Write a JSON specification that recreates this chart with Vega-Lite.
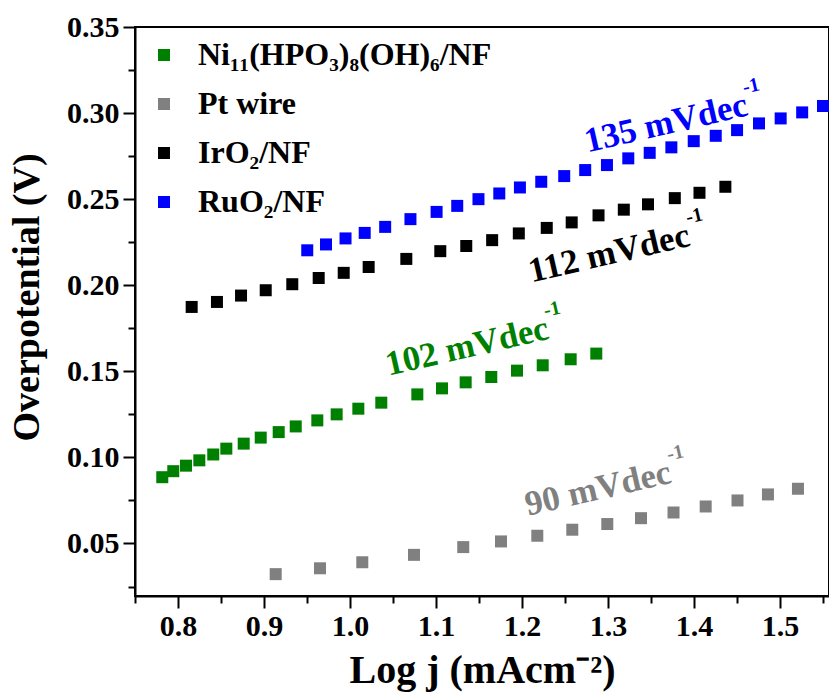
{
  "$schema": "https://vega.github.io/schema/vega-lite/v6.json",
  "width": 694,
  "height": 569,
  "autosize": {"type": "none"},
  "padding": {"left": 135, "top": 27, "right": 0, "bottom": 96},
  "background": "white",
  "config": {
    "view": {"stroke": "black", "strokeWidth": 2},
    "font": "Liberation Serif"
  },
  "datasets": {
    "pts": [
      {"series": "Ni₁₁(HPO₃)₈(OH)₆/NF", "logj": 0.7817, "eta": 0.0885},
      {"series": "Ni₁₁(HPO₃)₈(OH)₆/NF", "logj": 0.7945, "eta": 0.0920},
      {"series": "Ni₁₁(HPO₃)₈(OH)₆/NF", "logj": 0.8093, "eta": 0.0952},
      {"series": "Ni₁₁(HPO₃)₈(OH)₆/NF", "logj": 0.8248, "eta": 0.0983},
      {"series": "Ni₁₁(HPO₃)₈(OH)₆/NF", "logj": 0.8410, "eta": 0.1017},
      {"series": "Ni₁₁(HPO₃)₈(OH)₆/NF", "logj": 0.8562, "eta": 0.1051},
      {"series": "Ni₁₁(HPO₃)₈(OH)₆/NF", "logj": 0.8764, "eta": 0.1080},
      {"series": "Ni₁₁(HPO₃)₈(OH)₆/NF", "logj": 0.8962, "eta": 0.1115},
      {"series": "Ni₁₁(HPO₃)₈(OH)₆/NF", "logj": 0.9171, "eta": 0.1147},
      {"series": "Ni₁₁(HPO₃)₈(OH)₆/NF", "logj": 0.9369, "eta": 0.1180},
      {"series": "Ni₁₁(HPO₃)₈(OH)₆/NF", "logj": 0.9620, "eta": 0.1215},
      {"series": "Ni₁₁(HPO₃)₈(OH)₆/NF", "logj": 0.9845, "eta": 0.1250},
      {"series": "Ni₁₁(HPO₃)₈(OH)₆/NF", "logj": 1.0097, "eta": 0.1283},
      {"series": "Ni₁₁(HPO₃)₈(OH)₆/NF", "logj": 1.0364, "eta": 0.1318},
      {"series": "Ni₁₁(HPO₃)₈(OH)₆/NF", "logj": 1.0783, "eta": 0.1366},
      {"series": "Ni₁₁(HPO₃)₈(OH)₆/NF", "logj": 1.1070, "eta": 0.1401},
      {"series": "Ni₁₁(HPO₃)₈(OH)₆/NF", "logj": 1.1345, "eta": 0.1436},
      {"series": "Ni₁₁(HPO₃)₈(OH)₆/NF", "logj": 1.1643, "eta": 0.1467},
      {"series": "Ni₁₁(HPO₃)₈(OH)₆/NF", "logj": 1.1942, "eta": 0.1504},
      {"series": "Ni₁₁(HPO₃)₈(OH)₆/NF", "logj": 1.2241, "eta": 0.1535},
      {"series": "Ni₁₁(HPO₃)₈(OH)₆/NF", "logj": 1.2566, "eta": 0.1570},
      {"series": "Ni₁₁(HPO₃)₈(OH)₆/NF", "logj": 1.2864, "eta": 0.1603},
      {"series": "Pt wire", "logj": 0.9136, "eta": 0.0322},
      {"series": "Pt wire", "logj": 0.9651, "eta": 0.0356},
      {"series": "Pt wire", "logj": 1.0143, "eta": 0.0391},
      {"series": "Pt wire", "logj": 1.0744, "eta": 0.0434},
      {"series": "Pt wire", "logj": 1.1317, "eta": 0.0479},
      {"series": "Pt wire", "logj": 1.1756, "eta": 0.0512},
      {"series": "Pt wire", "logj": 1.2178, "eta": 0.0545},
      {"series": "Pt wire", "logj": 1.2585, "eta": 0.0580},
      {"series": "Pt wire", "logj": 1.2992, "eta": 0.0613},
      {"series": "Pt wire", "logj": 1.3384, "eta": 0.0647},
      {"series": "Pt wire", "logj": 1.3762, "eta": 0.0680},
      {"series": "Pt wire", "logj": 1.4136, "eta": 0.0715},
      {"series": "Pt wire", "logj": 1.4506, "eta": 0.0750},
      {"series": "Pt wire", "logj": 1.4860, "eta": 0.0785},
      {"series": "Pt wire", "logj": 1.5209, "eta": 0.0818},
      {"series": "IrO₂/NF", "logj": 0.8159, "eta": 0.1874},
      {"series": "IrO₂/NF", "logj": 0.8453, "eta": 0.1903},
      {"series": "IrO₂/NF", "logj": 0.8733, "eta": 0.1940},
      {"series": "IrO₂/NF", "logj": 0.9020, "eta": 0.1971},
      {"series": "IrO₂/NF", "logj": 0.9329, "eta": 0.2006},
      {"series": "IrO₂/NF", "logj": 0.9636, "eta": 0.2042},
      {"series": "IrO₂/NF", "logj": 0.9927, "eta": 0.2072},
      {"series": "IrO₂/NF", "logj": 1.0217, "eta": 0.2106},
      {"series": "IrO₂/NF", "logj": 1.0655, "eta": 0.2153},
      {"series": "IrO₂/NF", "logj": 1.1050, "eta": 0.2198},
      {"series": "IrO₂/NF", "logj": 1.1352, "eta": 0.2228},
      {"series": "IrO₂/NF", "logj": 1.1653, "eta": 0.2262},
      {"series": "IrO₂/NF", "logj": 1.1963, "eta": 0.2301},
      {"series": "IrO₂/NF", "logj": 1.2288, "eta": 0.2333},
      {"series": "IrO₂/NF", "logj": 1.2578, "eta": 0.2365},
      {"series": "IrO₂/NF", "logj": 1.2890, "eta": 0.2406},
      {"series": "IrO₂/NF", "logj": 1.3184, "eta": 0.2439},
      {"series": "IrO₂/NF", "logj": 1.3465, "eta": 0.2470},
      {"series": "IrO₂/NF", "logj": 1.3777, "eta": 0.2506},
      {"series": "IrO₂/NF", "logj": 1.4064, "eta": 0.2537},
      {"series": "IrO₂/NF", "logj": 1.4365, "eta": 0.2572},
      {"series": "RuO₂/NF", "logj": 0.9503, "eta": 0.2203},
      {"series": "RuO₂/NF", "logj": 0.9721, "eta": 0.2237},
      {"series": "RuO₂/NF", "logj": 0.9948, "eta": 0.2272},
      {"series": "RuO₂/NF", "logj": 1.0171, "eta": 0.2304},
      {"series": "RuO₂/NF", "logj": 1.0409, "eta": 0.2339},
      {"series": "RuO₂/NF", "logj": 1.0703, "eta": 0.2384},
      {"series": "RuO₂/NF", "logj": 1.1007, "eta": 0.2426},
      {"series": "RuO₂/NF", "logj": 1.1247, "eta": 0.2461},
      {"series": "RuO₂/NF", "logj": 1.1494, "eta": 0.2500},
      {"series": "RuO₂/NF", "logj": 1.1736, "eta": 0.2533},
      {"series": "RuO₂/NF", "logj": 1.1976, "eta": 0.2568},
      {"series": "RuO₂/NF", "logj": 1.2224, "eta": 0.2601},
      {"series": "RuO₂/NF", "logj": 1.2491, "eta": 0.2634},
      {"series": "RuO₂/NF", "logj": 1.2735, "eta": 0.2669},
      {"series": "RuO₂/NF", "logj": 1.2988, "eta": 0.2698},
      {"series": "RuO₂/NF", "logj": 1.3236, "eta": 0.2737},
      {"series": "RuO₂/NF", "logj": 1.3485, "eta": 0.2769},
      {"series": "RuO₂/NF", "logj": 1.3737, "eta": 0.2801},
      {"series": "RuO₂/NF", "logj": 1.3997, "eta": 0.2837},
      {"series": "RuO₂/NF", "logj": 1.4253, "eta": 0.2868},
      {"series": "RuO₂/NF", "logj": 1.4501, "eta": 0.2901},
      {"series": "RuO₂/NF", "logj": 1.4756, "eta": 0.2940},
      {"series": "RuO₂/NF", "logj": 1.5008, "eta": 0.2969},
      {"series": "RuO₂/NF", "logj": 1.5258, "eta": 0.3004},
      {"series": "RuO₂/NF", "logj": 1.5500, "eta": 0.3041}
    ]
  },
  "layer": [
    {
      "data": {"name": "pts"},
      "mark": {"type": "point", "shape": "square", "filled": true, "size": 144, "opacity": 1},
      "encoding": {
        "x": {
          "field": "logj", "type": "quantitative",
          "scale": {"domain": [0.75, 1.557], "nice": false, "zero": false},
          "axis": {
            "title": "Log j (mAcm⁻²)",
            "values": [0.75, 0.8, 0.85, 0.9, 0.95, 1.0, 1.05, 1.1, 1.15, 1.2, 1.25, 1.3, 1.35, 1.4, 1.45, 1.5, 1.55],
            "labelExpr": "abs(datum.value*10 - round(datum.value*10)) < 0.01 ? format(datum.value, '.1f') : ''",
            "tickSize": {"condition": {"test": "abs(datum.value*10 - round(datum.value*10)) < 0.01", "value": 12}, "value": 7},
            "grid": false,
            "domainColor": "black", "domainWidth": 2,
            "tickColor": "black", "tickWidth": 2,
            "labelFont": "Liberation Serif", "labelFontWeight": "bold", "labelFontSize": 30, "labelColor": "black",
            "labelPadding": 3, "labelOverlap": false, "labelFlush": false, "labelBound": false,
            "titleFont": "Liberation Serif", "titleFontWeight": "bold", "titleFontSize": 40, "titleColor": "black",
            "titlePadding": 9
          }
        },
        "y": {
          "field": "eta", "type": "quantitative",
          "scale": {"domain": [0.0195, 0.35], "nice": false, "zero": false},
          "axis": {
            "title": "Overpotential (V)",
            "values": [0.025, 0.05, 0.075, 0.1, 0.125, 0.15, 0.175, 0.2, 0.225, 0.25, 0.275, 0.3, 0.325, 0.35],
            "labelExpr": "abs(datum.value*20 - round(datum.value*20)) < 0.01 ? format(datum.value, '.2f') : ''",
            "tickSize": {"condition": {"test": "abs(datum.value*20 - round(datum.value*20)) < 0.01", "value": 12}, "value": 7},
            "grid": false,
            "domainColor": "black", "domainWidth": 2,
            "tickColor": "black", "tickWidth": 2,
            "labelFont": "Liberation Serif", "labelFontWeight": "bold", "labelFontSize": 30, "labelColor": "black",
            "labelPadding": 4, "labelOverlap": false, "labelFlush": false, "labelBound": false,
            "titleFont": "Liberation Serif", "titleFontWeight": "bold", "titleFontSize": 38, "titleColor": "black",
            "titlePadding": 20,
            "titleY": 270
          }
        },
        "color": {
          "field": "series", "type": "nominal",
          "scale": {
            "domain": ["Ni₁₁(HPO₃)₈(OH)₆/NF", "Pt wire", "IrO₂/NF", "RuO₂/NF"],
            "range": ["#008000", "#808080", "#000000", "#0000ff"]
          },
          "legend": {
            "title": null,
            "orient": "none",
            "legendX": 13,
            "legendY": 12,
            "symbolType": "square",
            "symbolSize": 144,
            "symbolStrokeWidth": 0,
            "labelFont": "Liberation Serif",
            "labelFontWeight": "bold",
            "labelFontSize": 32,
            "labelColor": "black",
            "labelOffset": 18,
            "labelLimit": 500,
            "rowPadding": 17
          }
        }
      }
    },
    {
      "data": {"values": [{"logj": 1.3674, "eta": 0.2942, "note": "135 mVdec", "sup": "-1"}]},
      "encoding": {"x": {"field": "logj", "type": "quantitative"}, "y": {"field": "eta", "type": "quantitative"}},
      "layer": [
        {"mark": {"type": "text", "angle": 347, "font": "Liberation Serif", "fontWeight": "bold", "fontSize": 35, "color": "#0000ff", "align": "center", "baseline": "middle"}, "encoding": {"text": {"field": "note"}}},
        {"mark": {"type": "text", "angle": 347, "font": "Liberation Serif", "fontWeight": "bold", "fontSize": 20, "color": "#0000ff", "align": "left", "baseline": "middle", "dx": 83, "dy": -17}, "encoding": {"text": {"field": "sup"}}}
      ]
    },
    {
      "data": {"values": [{"logj": 1.3012, "eta": 0.2186, "note": "112 mVdec", "sup": "-1"}]},
      "encoding": {"x": {"field": "logj", "type": "quantitative"}, "y": {"field": "eta", "type": "quantitative"}},
      "layer": [
        {"mark": {"type": "text", "angle": 347, "font": "Liberation Serif", "fontWeight": "bold", "fontSize": 35, "color": "#000000", "align": "center", "baseline": "middle"}, "encoding": {"text": {"field": "note"}}},
        {"mark": {"type": "text", "angle": 347, "font": "Liberation Serif", "fontWeight": "bold", "fontSize": 20, "color": "#000000", "align": "left", "baseline": "middle", "dx": 83, "dy": -17}, "encoding": {"text": {"field": "sup"}}}
      ]
    },
    {
      "data": {"values": [{"logj": 1.136, "eta": 0.1645, "note": "102 mVdec", "sup": "-1"}]},
      "encoding": {"x": {"field": "logj", "type": "quantitative"}, "y": {"field": "eta", "type": "quantitative"}},
      "layer": [
        {"mark": {"type": "text", "angle": 347, "font": "Liberation Serif", "fontWeight": "bold", "fontSize": 35, "color": "#008000", "align": "center", "baseline": "middle"}, "encoding": {"text": {"field": "note"}}},
        {"mark": {"type": "text", "angle": 347, "font": "Liberation Serif", "fontWeight": "bold", "fontSize": 20, "color": "#008000", "align": "left", "baseline": "middle", "dx": 83, "dy": -17}, "encoding": {"text": {"field": "sup"}}}
      ]
    },
    {
      "data": {"values": [{"logj": 1.2884, "eta": 0.082, "note": "90 mVdec", "sup": "-1"}]},
      "encoding": {"x": {"field": "logj", "type": "quantitative"}, "y": {"field": "eta", "type": "quantitative"}},
      "layer": [
        {"mark": {"type": "text", "angle": 347, "font": "Liberation Serif", "fontWeight": "bold", "fontSize": 35, "color": "#808080", "align": "center", "baseline": "middle"}, "encoding": {"text": {"field": "note"}}},
        {"mark": {"type": "text", "angle": 347, "font": "Liberation Serif", "fontWeight": "bold", "fontSize": 20, "color": "#808080", "align": "left", "baseline": "middle", "dx": 75, "dy": -17}, "encoding": {"text": {"field": "sup"}}}
      ]
    }
  ]
}
